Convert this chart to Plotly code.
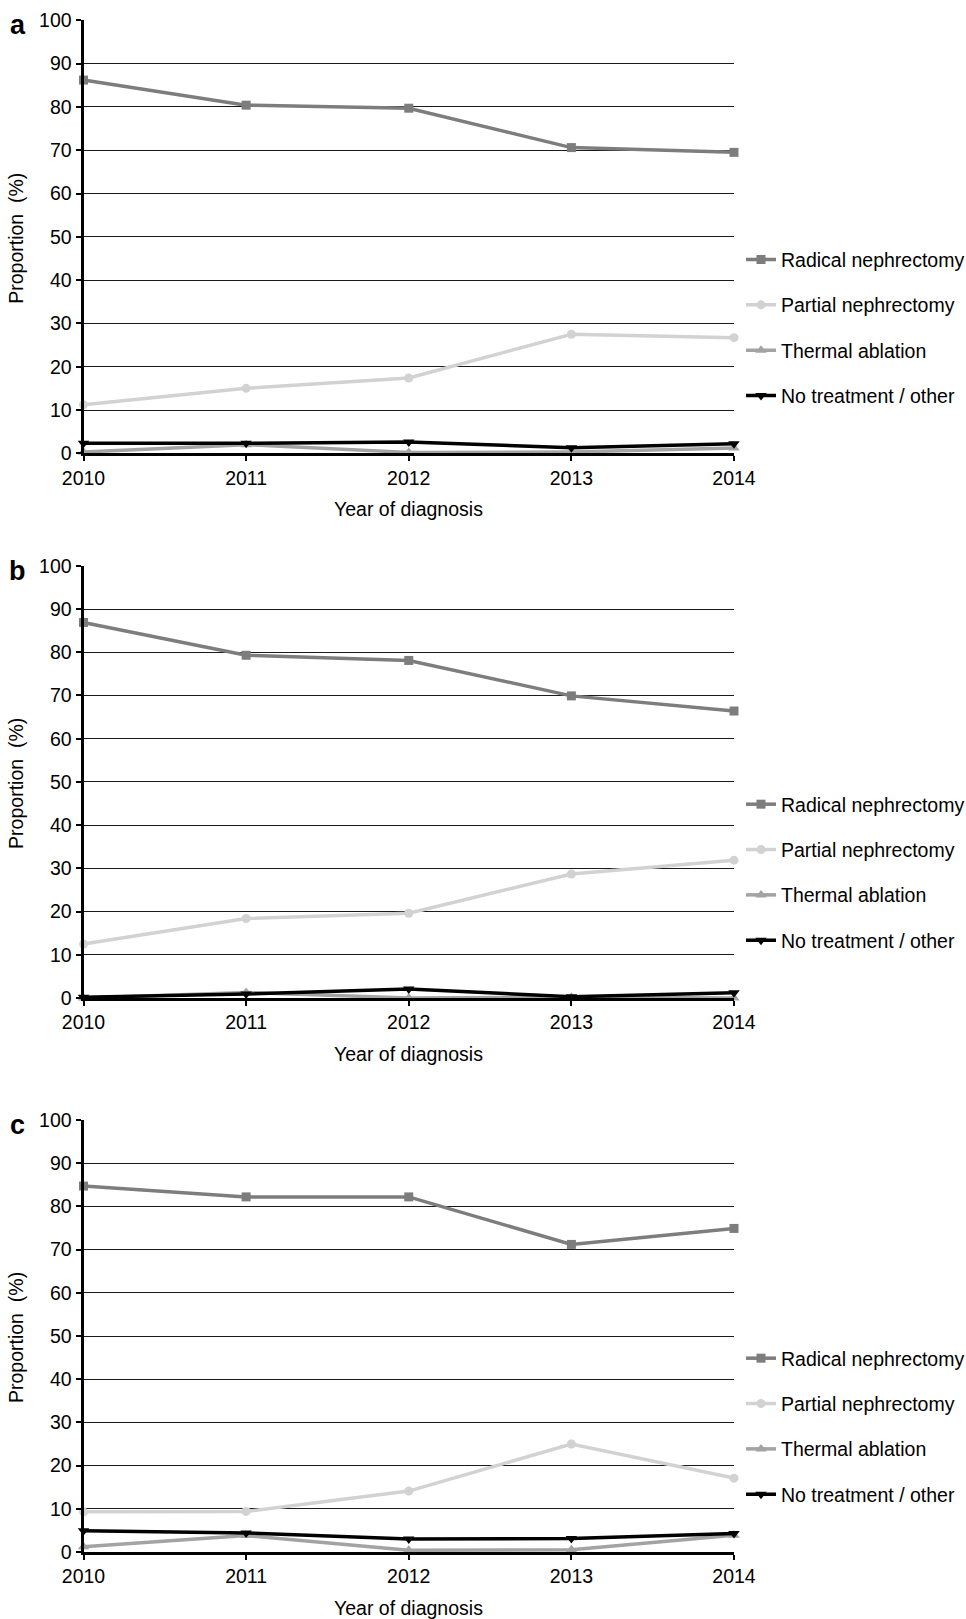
import plotly.graph_objects as go

W, H = 966, 1619

years = [2010, 2011, 2012, 2013, 2014]
series_names = ["Radical nephrectomy", "Partial nephrectomy", "Thermal ablation", "No treatment / other"]

# Panel a
a_radical = [86.2, 80.4, 79.7, 70.6, 69.5]
a_partial = [11.2, 15.0, 17.4, 27.5, 26.7]
a_thermal = [0.3, 2.0, 0.2, 0.3, 1.2]
a_none = [2.3, 2.3, 2.6, 1.3, 2.2]

# Panel b
b_radical = [86.9, 79.3, 78.1, 69.9, 66.4]
b_partial = [12.5, 18.4, 19.6, 28.7, 31.9]
b_thermal = [0.0, 1.3, 0.0, 0.2, 0.0]
b_none = [0.2, 0.9, 2.1, 0.3, 1.2]

# Panel c
c_radical = [84.7, 82.2, 82.2, 71.2, 74.9]
c_partial = [9.3, 9.4, 14.1, 25.0, 17.1]
c_thermal = [1.2, 3.8, 0.4, 0.5, 3.9]
c_none = [4.9, 4.4, 3.0, 3.1, 4.3]

panel_labels = ["a", "b", "c"]
y_ticks = [0, 10, 20, 30, 40, 50, 60, 70, 80, 90, 100]

panels = [
    [a_radical, a_partial, a_thermal, a_none],
    [b_radical, b_partial, b_thermal, b_none],
    [c_radical, c_partial, c_thermal, c_none],
]

colors = ["#7d7d7d", "#d2d2d2", "#a3a3a3", "#000000"]
symbols = ["square", "circle", "triangle-up", "triangle-down"]
msizes = [9, 9, 10, 10]

FONT = "Liberation Sans, Arial, sans-serif"
FS = 19.5

# plot-area geometry in pixels (left, right, top of each panel, bottom of each panel)
x_left, x_right = 83.5, 734.0
tops = [20.3, 565.8, 1120.0]
bottoms = [453.3, 998.0, 1552.0]

fig = go.Figure()
annotations = []

for p, data in enumerate(panels):
    suffix = "" if p == 0 else str(p + 1)
    xa, ya = "x" + suffix, "y" + suffix
    leg = "legend" + suffix
    for k, vals in enumerate(data):
        fig.add_trace(go.Scatter(
            x=years, y=vals, name=series_names[k],
            mode="lines+markers",
            line=dict(color=colors[k], width=3.5),
            marker=dict(symbol=symbols[k], size=msizes[k], color=colors[k]),
            xaxis=xa, yaxis=ya, legend=leg, legendgroup=f"{p}-{k}",
            cliponaxis=False,
        ))

    ydom = [1 - bottoms[p] / H, 1 - tops[p] / H]
    axis_common = dict(
        showline=True, linecolor="black", linewidth=3,
        ticks="outside", ticklen=5, tickwidth=2, tickcolor="black",
        tickfont=dict(family=FONT, size=FS, color="black"),
        zeroline=False, automargin=False,
    )
    fig.layout["xaxis" + suffix] = dict(
        domain=[x_left / W, x_right / W], anchor=ya,
        range=[2010, 2014], tickvals=years, ticktext=[str(y) for y in years],
        showgrid=False, **axis_common,
    )
    fig.layout["yaxis" + suffix] = dict(
        domain=ydom, anchor=xa, range=[0, 100], tickvals=y_ticks,
        showgrid=True, gridcolor="#1a1a1a", gridwidth=1,
        **axis_common,
    )

    legend_center = bottoms[p] - 125.5
    fig.layout[leg] = dict(
        x=741 / W, xanchor="left", y=1 - legend_center / H, yanchor="middle",
        font=dict(family=FONT, size=FS, color="black"),
        bgcolor="rgba(0,0,0,0)", tracegroupgap=17, itemwidth=30,
    )

    # panel letter
    annotations.append(dict(
        text=f"<b>{panel_labels[p]}</b>", x=17.5 / W, y=1 - (tops[p] + 5) / H,
        xref="paper", yref="paper", xanchor="center", yanchor="middle",
        showarrow=False, font=dict(family=FONT, size=27, color="black"),
    ))
    # x-axis title
    annotations.append(dict(
        text="Year of diagnosis", x=(x_left + x_right) / 2 / W, y=1 - (bottoms[p] + 56) / H,
        xref="paper", yref="paper", xanchor="center", yanchor="middle",
        showarrow=False, font=dict(family=FONT, size=FS, color="black"),
    ))
    # y-axis title
    mid_y = (tops[p] + bottoms[p]) / 2
    annotations.append(dict(
        text="Proportion  (%)", x=16 / W, y=1 - (mid_y + 2) / H,
        xref="paper", yref="paper", xanchor="center", yanchor="middle",
        textangle=-90, showarrow=False, font=dict(family=FONT, size=FS, color="black"),
    ))

fig.update_layout(
    width=W, height=H,
    margin=dict(l=0, r=0, t=0, b=0, autoexpand=False),
    paper_bgcolor="white", plot_bgcolor="white",
    annotations=annotations, showlegend=True,
)

fig.write_html("out.html")
